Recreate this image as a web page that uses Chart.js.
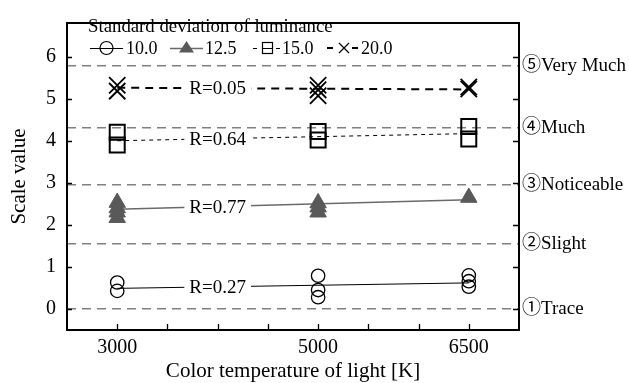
<!DOCTYPE html>
<html>
<head>
<meta charset="utf-8">
<script src="https://cdn.jsdelivr.net/npm/chart.js@4.4.1/dist/chart.umd.min.js"></script>
<style>
html,body{margin:0;padding:0;background:#fff;}
#wrap{width:629px;height:383px;position:relative;}
</style>
</head>
<body>
<div id="wrap"><canvas id="c" width="629" height="383"></canvas></div>
<script>
// ---- data ----
const temps = [3000, 5000, 6500];
const xTickLabels = [3000, 5000, 6500];
const yTicks = [0, 1, 2, 3, 4, 5, 6];
const sd10 = [[0.63, 0.43], [0.79, 0.45, 0.28], [0.80, 0.66, 0.53]];
const sd125 = [[2.53, 2.40, 2.30, 2.17], [2.52, 2.42, 2.30], [2.65]];
const sd15 = [[4.20, 3.90], [4.22, 4.02], [4.34, 4.04]];
const sd20 = [[5.32, 5.18], [5.32, 5.21, 5.07], [5.28, 5.23]];
const fitX = [3000, 6500];
const fit10 = [0.49, 0.62];
const fit125 = [2.37, 2.60];
const fit15 = [4.00, 4.17];
const fit20 = [5.26, 5.22];
const rLabels = ['R=0.27', 'R=0.77', 'R=0.64', 'R=0.05'];
const rLabelX = 4000;
const levels = [0, 1.55, 2.95, 4.30, 5.78];
const levelLabels = ['①Trace', '②Slight', '③Noticeable', '④Much', '⑤Very Much'];
const seriesNames = ['10.0', '12.5', '15.0', '20.0'];
const legendTitle = 'Standard deviation of luminance';

const SERIF = "'Liberation Serif','Times New Roman','Noto Sans CJK JP',serif";

function pts(groups) {
  const out = [];
  groups.forEach((g, i) => g.forEach(v => out.push({x: temps[i], y: v})));
  return out;
}
function fit(vals) { return fitX.map((x, i) => ({x: x, y: vals[i]})); }

const fits = [fit10, fit125, fit15, fit20];

const lineStyles = [
  {color: '#000', width: 1, dash: []},
  {color: '#6a6a6a', width: 1.5, dash: []},
  {color: '#000', width: 1, dash: [4, 4]},
  {color: '#000', width: 2, dash: [8, 6]}
];

const datasets = [];
fits.forEach((f, i) => {
  datasets.push({
    data: fit(f), showLine: true, pointRadius: 0,
    borderColor: lineStyles[i].color, borderWidth: lineStyles[i].width,
    borderDash: lineStyles[i].dash, order: 10
  });
});
datasets.push({data: pts(sd10), pointStyle: 'circle', pointRadius: 6.7,
  borderColor: '#000', borderWidth: 1.3, backgroundColor: 'rgba(0,0,0,0)', order: 1});
datasets.push({data: pts(sd125), pointStyle: 'triangle', pointRadius: 9.5,
  borderColor: '#595959', borderWidth: 1, backgroundColor: '#595959', order: 1});
datasets.push({data: pts(sd15), pointStyle: 'rect', pointRadius: 10.6,
  borderColor: '#000', borderWidth: 2, backgroundColor: 'rgba(0,0,0,0)', order: 1});
datasets.push({data: pts(sd20), pointStyle: 'crossRot', pointRadius: 11.5,
  borderColor: '#000', borderWidth: 1.8, backgroundColor: 'rgba(0,0,0,0)', order: 1});

const framePlugin = {
  id: 'frame',
  afterDatasetsDraw(chart) {
    const ctx = chart.ctx, a = chart.chartArea;
    const xs = chart.scales.x, ys = chart.scales.y;
    ctx.save();
    // R labels
    ctx.font = '19px ' + SERIF;
    ctx.textAlign = 'center';
    ctx.textBaseline = 'middle';
    fits.forEach((f, i) => {
      const t = (rLabelX - fitX[0]) / (fitX[1] - fitX[0]);
      const yv = f[0] + (f[1] - f[0]) * t;
      const px = xs.getPixelForValue(rLabelX), py = ys.getPixelForValue(yv);
      const w = ctx.measureText(rLabels[i]).width;
      ctx.fillStyle = '#fff';
      ctx.fillRect(px - w / 2 - 5, py - 8, w + 10, 16);
      ctx.fillStyle = '#000';
      ctx.fillText(rLabels[i], px, py + 1);
    });
    // frame
    ctx.strokeStyle = '#000';
    ctx.lineWidth = 2;
    ctx.setLineDash([]);
    ctx.strokeRect(a.left, a.top, a.right - a.left, a.bottom - a.top);
    ctx.lineWidth = 1.3;
    ctx.beginPath();
    yTicks.forEach(v => {
      const py = Math.round(ys.getPixelForValue(v)) + 0.5;
      ctx.moveTo(a.left, py); ctx.lineTo(a.left + 5, py);
      ctx.moveTo(a.right, py); ctx.lineTo(a.right - 6, py);
    });
    for (let v = xs.min + 500; v < xs.max; v += 500) {
      const px = Math.round(xs.getPixelForValue(v)) + 0.5;
      ctx.moveTo(px, a.bottom); ctx.lineTo(px, a.bottom - 6);
    }
    ctx.stroke();
    // legend
    ctx.textAlign = 'left';
    ctx.textBaseline = 'middle';
    ctx.fillStyle = '#000';
    ctx.font = '18.8px ' + SERIF;
    ctx.fillText(legendTitle, 88, 27);
    const ly = 48;
    ctx.font = '18px ' + SERIF;
    // item 1
    ctx.strokeStyle = '#000'; ctx.lineWidth = 1;
    ctx.beginPath(); ctx.moveTo(90, ly + 0.5); ctx.lineTo(123, ly + 0.5); ctx.stroke();
    ctx.lineWidth = 1.2;
    ctx.beginPath(); ctx.arc(106.5, ly, 6.5, 0, Math.PI * 2); ctx.stroke();
    ctx.fillText(seriesNames[0], 126, ly + 1);
    // item 2
    ctx.strokeStyle = '#6a6a6a'; ctx.lineWidth = 1.5;
    ctx.beginPath(); ctx.moveTo(170, ly + 0.5); ctx.lineTo(203, ly + 0.5); ctx.stroke();
    ctx.fillStyle = '#595959';
    ctx.beginPath(); ctx.moveTo(186.5, ly - 7); ctx.lineTo(194, ly + 4.5); ctx.lineTo(179, ly + 4.5); ctx.closePath(); ctx.fill();
    ctx.fillStyle = '#000';
    ctx.fillText(seriesNames[1], 205, ly + 1);
    // item 3
    ctx.strokeStyle = '#000'; ctx.lineWidth = 1;
    ctx.beginPath();
    ctx.moveTo(253, ly + 0.5); ctx.lineTo(257, ly + 0.5);
    ctx.moveTo(262, ly + 0.5); ctx.lineTo(272, ly + 0.5);
    ctx.moveTo(276, ly + 0.5); ctx.lineTo(280, ly + 0.5);
    ctx.stroke();
    ctx.lineWidth = 1.2;
    ctx.strokeRect(262.5, ly - 5.5, 10, 11);
    ctx.fillText(seriesNames[2], 282, ly + 1);
    // item 4
    ctx.lineWidth = 2;
    ctx.beginPath();
    ctx.moveTo(327, ly); ctx.lineTo(333, ly);
    ctx.moveTo(352, ly); ctx.lineTo(358, ly);
    ctx.stroke();
    ctx.lineWidth = 1.3;
    ctx.beginPath();
    ctx.moveTo(339, ly - 5); ctx.lineTo(349, ly + 5);
    ctx.moveTo(349, ly - 5); ctx.lineTo(339, ly + 5);
    ctx.stroke();
    ctx.fillText(seriesNames[3], 361, ly + 1);
    ctx.restore();
  }
};

new Chart(document.getElementById('c'), {
  type: 'scatter',
  data: {datasets: datasets},
  options: {
    responsive: false,
    animation: false,
    layout: {padding: {top: 13, left: 0, right: 0, bottom: 0}},
    plugins: {legend: {display: false}, tooltip: {enabled: false}},
    scales: {
      x: {
        type: 'linear', min: 2500, max: 7000,
        afterFit: s => { s.height = 53; },
        afterBuildTicks: s => { s.ticks = xTickLabels.map(v => ({value: v})); },
        ticks: {color: '#000', font: {family: SERIF, size: 20}, padding: 6, maxRotation: 0, autoSkip: false,
          callback: v => String(v)},
        grid: {display: false, drawTicks: false},
        border: {display: false},
        title: {display: true, text: 'Color temperature of light [K]', color: '#000',
          font: {family: SERIF, size: 21, lineHeight: 1}, padding: {top: 0, bottom: 1}}
      },
      y: {
        position: 'left', min: -0.5, max: 6.8,
        afterFit: s => { s.width = 67; },
        afterBuildTicks: s => { s.ticks = yTicks.map(v => ({value: v})); },
        ticks: {color: '#000', font: {family: SERIF, size: 20}, padding: 11},
        grid: {display: false, drawTicks: false},
        border: {display: false},
        title: {display: true, text: 'Scale value', color: '#000',
          font: {family: SERIF, size: 21, lineHeight: 1}, padding: {top: 9, bottom: 0}}
      },
      y2: {
        position: 'right', min: -0.5, max: 6.8,
        afterFit: s => { s.width = 110; },
        afterBuildTicks: s => { s.ticks = levels.map(v => ({value: v})); },
        ticks: {color: '#000', font: {family: SERIF, size: 19}, padding: 3,
          callback: (v, i) => levelLabels[i]},
        grid: {display: true, drawOnChartArea: true, drawTicks: false, color: '#808080', lineWidth: 1.5},
        border: {display: false, dash: [9, 6]}
      }
    }
  },
  plugins: [framePlugin]
});
</script>
</body>
</html>
